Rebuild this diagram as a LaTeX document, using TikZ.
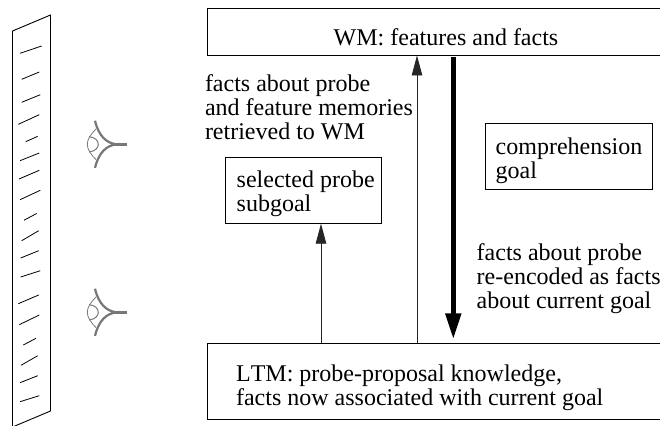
\documentclass[tikz,border=0pt]{standalone}
\usepackage{fontspec}
\setmainfont[Kerning=Off]{Liberation Serif}
\usetikzlibrary{arrows.meta}
\definecolor{eyegray}{HTML}{777777}
\newcommand{\firstline}[1]{\rule{0pt}{#1pt}}
\tikzset{
  x=1pt,y=-1pt,
  every node/.style={font=\fontsize{24}{24}\selectfont,inner sep=0pt,outer sep=0pt},
  box/.style={draw=black,line width=0.9pt,rectangle,align=left},
  lbl/.style={align=left,anchor=north west},
  thin arrow/.style={draw=black!85,line width=0.9pt,-{Triangle[length=20pt,width=10.5pt]}},
  thick arrow/.style={draw=black,line width=5pt,-{Triangle[length=26pt,width=15pt]}},
  panel/.style={draw=black,line width=0.9pt},
  tick mark/.style={draw=black,line width=0.8pt},
  eyeglyph/.pic={
    \draw[eyegray,line width=2.2pt] (-21.7,-23.6) .. controls (-18,-8) and (-10,-1) .. (0,0) .. controls (-10,1) and (-18,8) .. (-21.7,23.6);
    \draw[eyegray,line width=2.4pt] (-2,0) -- (10.6,0);
    \draw[eyegray,line width=0.8pt] (-20.7,-15.3) .. controls (-26,-10) and (-29.4,-5) .. (-29.4,0) .. controls (-29.4,5) and (-26,10) .. (-20.7,15.3);
    \draw[eyegray,line width=1pt] (-27.4,-7.6) .. controls (-22,-7) and (-18.4,-4) .. (-18.4,0) .. controls (-18.4,4) and (-22,7) .. (-27.4,7.6);
  }
}
\begin{document}
\begin{tikzpicture}
\clip (0,0) rectangle (660,425);
\fill[white] (0,0) rectangle (660,425);
% slanted panel
\draw[panel] (12.5,440) -- (12.5,31) -- (50.5,15) -- (50.5,411) -- (12.5,427);
\foreach \xa/\ya/\xb/\yb in {
 20/53.3/41.7/46, 21.7/79.3/39.3/72, 21.7/102.3/40.3/94.7, 18.3/124.3/39.3/114.7,
 25.7/141.7/37.7/136.3, 20/160.7/39.3/153, 19/179/39.3/170.3, 20/199.7/40.3/190.3,
 24/220.2/36.7/213.5, 21.7/240.7/38.7/230.7, 20.7/258/38.7/250.7, 20.7/277/40.3/270.7,
 18.3/303.7/38.7/295, 19.3/324.7/39.3/315, 23.3/345/36/338.3, 21/365.3/37.7/355.7,
 20/382.7/37.7/375.7, 20/401.7/39.3/395.7}
 \draw[tick mark] (\xa,\ya) -- (\xb,\yb);
\pic at (116.7,144.3) {eyeglyph};
\pic at (116.7,312.3) {eyeglyph};
% boxes
\node[box,minimum width=478pt,minimum height=47.5pt] (wm) at (446,31.75) {\firstline{28}WM: features and facts};
\node[box,minimum width=478pt,minimum height=76pt] (ltm) at (446,381.3) {\firstline{30}LTM: probe-proposal knowledge,\\facts now associated with current goal\hspace*{52.6pt}};
\node[box,minimum width=156pt,minimum height=66pt] (probe) at (303,190.7) {\firstline{22}\hspace*{5.4pt}selected probe\\\hspace*{5.4pt}subgoal};
\node[box,minimum width=166.6pt,minimum height=66pt] (comp) at (569,156.3) {\firstline{26}comprehension\\goal};
% labels
\node[lbl] (retr) at (205,74.5) {facts about probe\\and feature memories\\retrieved to WM};
\node[lbl] (enc) at (476.7,243.5) {facts about probe\\re-encoded as facts\\about current goal};
% connectors
\coordinate (cA) at (321,0);
\coordinate (cB) at (417,0);
\coordinate (cC) at (453.3,0);
\draw[thin arrow] (cA |- ltm.north) -- (cA |- probe.south);
\draw[thin arrow] (cB |- ltm.north) -- (cB |- wm.south);
\draw[thick arrow,shorten <=2pt,shorten >=4pt] (cC |- wm.south) -- (cC |- ltm.north);
\end{tikzpicture}
\end{document}
